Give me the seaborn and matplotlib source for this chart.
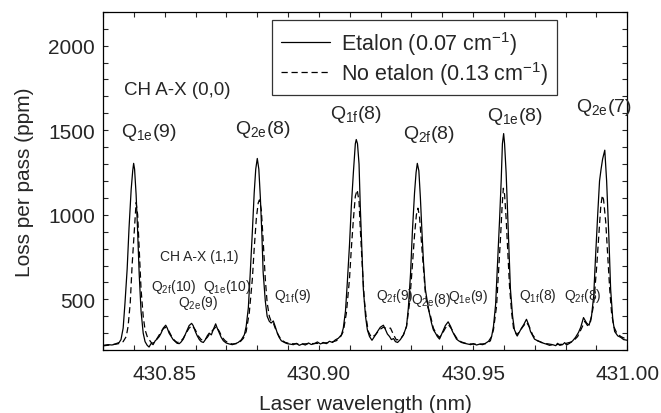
import matplotlib
matplotlib.use("Agg")
import matplotlib.pyplot as plt
from matplotlib.ticker import MultipleLocator
import seaborn as sns
import pandas as pd

# Etalon (solid) trace
etalon_nm = [
    430.8300, 430.8316, 430.8329, 430.8342, 430.8352, 430.8358, 430.8365, 430.8371,
    430.8378, 430.8384, 430.8391, 430.8396, 430.8399, 430.8402, 430.8407, 430.8412,
    430.8417, 430.8423, 430.8430, 430.8436, 430.8443, 430.8449, 430.8456, 430.8462,
    430.8469, 430.8475, 430.8482, 430.8488, 430.8495, 430.8503, 430.8508, 430.8514,
    430.8521, 430.8527, 430.8534, 430.8540, 430.8547, 430.8553, 430.8560, 430.8566,
    430.8573, 430.8579, 430.8587, 430.8592, 430.8599, 430.8605, 430.8612, 430.8618,
    430.8625, 430.8631, 430.8638, 430.8644, 430.8651, 430.8657, 430.8665, 430.8670,
    430.8677, 430.8683, 430.8690, 430.8699, 430.8709, 430.8719, 430.8729, 430.8738,
    430.8748, 430.8758, 430.8764, 430.8771, 430.8777, 430.8784, 430.8790, 430.8795,
    430.8800, 430.8805, 430.8810, 430.8815, 430.8819, 430.8826, 430.8832, 430.8839,
    430.8845, 430.8852, 430.8858, 430.8865, 430.8871, 430.8878, 430.8888, 430.8897,
    430.8907, 430.8917, 430.8927, 430.8936, 430.8946, 430.8956, 430.8966, 430.8975,
    430.8985, 430.8995, 430.9005, 430.9014, 430.9024, 430.9034, 430.9044, 430.9053,
    430.9063, 430.9073, 430.9079, 430.9086, 430.9092, 430.9099, 430.9105, 430.9112,
    430.9118, 430.9121, 430.9125, 430.9130, 430.9134, 430.9139, 430.9144, 430.9151,
    430.9157, 430.9164, 430.9172, 430.9180, 430.9190, 430.9199, 430.9209, 430.9216,
    430.9222, 430.9229, 430.9235, 430.9242, 430.9248, 430.9255, 430.9264, 430.9274,
    430.9284, 430.9290, 430.9297, 430.9303, 430.9310, 430.9315, 430.9319, 430.9324,
    430.9329, 430.9334, 430.9339, 430.9345, 430.9352, 430.9358, 430.9365, 430.9371,
    430.9378, 430.9384, 430.9391, 430.9397, 430.9404, 430.9410, 430.9419, 430.9427,
    430.9433, 430.9440, 430.9446, 430.9453, 430.9462, 430.9472, 430.9482, 430.9492,
    430.9501, 430.9511, 430.9521, 430.9531, 430.9540, 430.9550, 430.9560, 430.9566,
    430.9573, 430.9579, 430.9586, 430.9591, 430.9595, 430.9599, 430.9602, 430.9607,
    430.9612, 430.9617, 430.9621, 430.9628, 430.9634, 430.9643, 430.9651, 430.9657,
    430.9664, 430.9673, 430.9680, 430.9686, 430.9693, 430.9699, 430.9709, 430.9719,
    430.9729, 430.9738, 430.9748, 430.9758, 430.9768, 430.9774, 430.9781, 430.9790,
    430.9797, 430.9803, 430.9813, 430.9823, 430.9832, 430.9842, 430.9849, 430.9858,
    430.9868, 430.9876, 430.9884, 430.9891, 430.9897, 430.9904, 430.9910, 430.9915,
    430.9920, 430.9927, 430.9933, 430.9940, 430.9946, 430.9953, 430.9959, 430.9969,
    430.9979, 430.9988, 431.0000,
]
etalon_ppm = [
    228, 232, 230, 238, 245, 262, 330, 480,
    680, 920, 1150, 1260, 1304, 1270, 1120, 900,
    650, 430, 300, 250, 228, 218, 240, 232,
    255, 265, 280, 300, 330, 347, 330, 300,
    280, 262, 250, 240, 238, 248, 265, 290,
    320, 345, 358, 345, 310, 285, 262, 250,
    245, 260, 285, 300, 290, 320, 355, 330,
    300, 275, 255, 242, 236, 232, 238, 245,
    260, 290, 340, 450, 650, 900, 1130, 1270,
    1333, 1270, 1100, 880, 660, 490, 400, 370,
    360, 372, 340, 300, 275, 255, 245, 238,
    235, 232, 240, 228, 236, 230, 242, 233,
    238, 248, 236, 245, 238, 252, 245, 260,
    270, 290, 330, 430, 600, 820, 1050, 1260,
    1420, 1445, 1420, 1300, 1050, 800, 560, 400,
    320, 280, 258, 280, 310, 335, 347, 320,
    295, 280, 262, 268, 250, 245, 262, 290,
    340, 450, 650, 900, 1130, 1250, 1304, 1260,
    1100, 900, 720, 560, 480, 420, 360, 320,
    300, 280, 265, 290, 320, 345, 367, 340,
    310, 285, 265, 255, 245, 240, 236, 232,
    238, 230, 235, 232, 240, 252, 280, 340,
    470, 700, 980, 1200, 1420, 1480, 1420, 1250,
    1000, 760, 560, 400, 320, 283, 310, 330,
    350, 382, 350, 310, 285, 265, 255, 248,
    240, 235, 228, 232, 226, 240, 228, 232,
    244, 230, 240, 255, 275, 305, 335, 392,
    360, 347, 400, 520, 750, 1000, 1200, 1270,
    1330, 1382, 1200, 880, 560, 380, 310, 284,
    275, 262, 258,
]

# No-etalon (dashed) trace
noetalon_nm = [
    430.8300, 430.8323, 430.8342, 430.8355, 430.8365, 430.8375, 430.8381, 430.8388,
    430.8394, 430.8401, 430.8407, 430.8412, 430.8417, 430.8423, 430.8430, 430.8436,
    430.8443, 430.8449, 430.8456, 430.8462, 430.8472, 430.8482, 430.8492, 430.8501,
    430.8511, 430.8521, 430.8531, 430.8540, 430.8550, 430.8560, 430.8569, 430.8579,
    430.8589, 430.8599, 430.8608, 430.8618, 430.8628, 430.8638, 430.8647, 430.8657,
    430.8667, 430.8677, 430.8686, 430.8696, 430.8706, 430.8719, 430.8732, 430.8745,
    430.8755, 430.8764, 430.8774, 430.8784, 430.8790, 430.8797, 430.8803, 430.8807,
    430.8813, 430.8819, 430.8826, 430.8832, 430.8839, 430.8845, 430.8852, 430.8858,
    430.8868, 430.8878, 430.8891, 430.8907, 430.8940, 430.8972, 430.9005, 430.9037,
    430.9056, 430.9069, 430.9079, 430.9089, 430.9099, 430.9105, 430.9112, 430.9118,
    430.9124, 430.9130, 430.9134, 430.9141, 430.9147, 430.9154, 430.9160, 430.9170,
    430.9183, 430.9196, 430.9209, 430.9222, 430.9232, 430.9242, 430.9251, 430.9264,
    430.9274, 430.9284, 430.9294, 430.9303, 430.9310, 430.9316, 430.9321, 430.9326,
    430.9332, 430.9339, 430.9345, 430.9352, 430.9362, 430.9371, 430.9381, 430.9391,
    430.9401, 430.9410, 430.9420, 430.9430, 430.9440, 430.9449, 430.9462, 430.9479,
    430.9511, 430.9544, 430.9556, 430.9566, 430.9576, 430.9582, 430.9589, 430.9594,
    430.9598, 430.9602, 430.9607, 430.9612, 430.9618, 430.9625, 430.9631, 430.9641,
    430.9651, 430.9660, 430.9673, 430.9683, 430.9693, 430.9706, 430.9725, 430.9758,
    430.9790, 430.9823, 430.9839, 430.9852, 430.9862, 430.9871, 430.9881, 430.9891,
    430.9901, 430.9909, 430.9914, 430.9919, 430.9923, 430.9930, 430.9936, 430.9943,
    430.9949, 430.9956, 430.9966, 430.9979, 431.0000,
]
noetalon_ppm = [
    225, 230, 235, 240, 250, 280, 340, 480,
    700, 900, 1072, 1000, 800, 560, 400, 320,
    280, 262, 245, 240, 260, 290, 320, 335,
    320, 285, 258, 245, 248, 270, 300, 330,
    345, 320, 285, 262, 258, 275, 300, 320,
    340, 310, 275, 255, 242, 236, 238, 250,
    270, 310, 420, 620, 800, 980, 1070, 1088,
    1030, 850, 620, 480, 400, 370, 360, 330,
    290, 260, 245, 238, 236, 238, 240, 245,
    255, 275, 310, 420, 620, 800, 980, 1110,
    1147, 1080, 920, 680, 500, 380, 310, 275,
    290, 320, 335, 325, 330, 290, 260, 265,
    290, 340, 480, 700, 880, 1000, 1039, 990,
    850, 680, 540, 460, 400, 330, 295, 275,
    300, 330, 350, 325, 290, 265, 248, 238,
    234, 238, 255, 320, 460, 650, 870, 1050,
    1157, 1120, 980, 800, 580, 420, 330, 290,
    310, 335, 365, 335, 290, 258, 242, 232,
    234, 250, 280, 330, 370, 345, 370, 470,
    700, 920, 1050, 1115, 1090, 960, 780, 560,
    420, 340, 300, 280, 262,
]

sns.set_style("ticks")
plt.rcParams["font.family"] = ["Liberation Sans", "DejaVu Sans"]
plt.rcParams["mathtext.fontset"] = "custom"
plt.rcParams["mathtext.rm"] = "Liberation Sans"
plt.rcParams["mathtext.it"] = "Liberation Sans:italic"

fig = plt.figure(figsize=(6.61, 4.14), dpi=100)
ax = fig.add_axes([0.156, 0.152, 0.793, 0.817])

df_et = pd.DataFrame({"nm": etalon_nm, "ppm": etalon_ppm})
df_no = pd.DataFrame({"nm": noetalon_nm, "ppm": noetalon_ppm})
sns.lineplot(data=df_et, x="nm", y="ppm", ax=ax, color="black", lw=0.9,
             estimator=None, label=r"Etalon (0.07 cm$^{-1}$)")
sns.lineplot(data=df_no, x="nm", y="ppm", ax=ax, color="black", lw=0.9,
             estimator=None, linestyle=(0, (5, 3)), label=r"No etalon (0.13 cm$^{-1}$)")

ax.set_xlim(430.83, 431.00)
ax.set_ylim(200, 2200)
ax.xaxis.set_major_locator(MultipleLocator(0.05))
ax.xaxis.set_minor_locator(MultipleLocator(0.01))
ax.yaxis.set_major_locator(MultipleLocator(500))
ax.yaxis.set_minor_locator(MultipleLocator(100))
ax.set_yticks([500, 1000, 1500, 2000])
ax.set_xticks([430.85, 430.90, 430.95, 431.00])
ax.set_xticklabels(["430.85", "430.90", "430.95", "431.00"])
ax.tick_params(which="both", direction="in", top=True, right=True,
               length=3.5, width=0.8, labelsize=15)
ax.tick_params(axis="x", pad=10)
ax.tick_params(axis="y", pad=6)
for s in ax.spines.values():
    s.set_linewidth(0.9)
    s.set_color("black")

ax.set_xlabel("Laser wavelength (nm)", fontsize=15, labelpad=8)
ax.set_ylabel("Loss per pass (ppm)", fontsize=15, labelpad=10)

leg = ax.legend(loc="upper left", bbox_to_anchor=(0.3225, 0.975), borderaxespad=0,
                fontsize=15.5, frameon=True, fancybox=False, edgecolor="black",
                handlelength=2.3, borderpad=0.4, labelspacing=0.1, handletextpad=0.5)
leg.get_frame().set_linewidth(0.9)

big = 14
ax.text(430.8368, 1741, "CH A-X (0,0)", fontsize=13.5, va="center")
ax.text(430.8357, 1494, r"Q$_{\rm 1e}$(9)", fontsize=big, va="center")
ax.text(430.8727, 1512, r"Q$_{\rm 2e}$(8)", fontsize=big, va="center")
ax.text(430.9035, 1600, r"Q$_{\rm 1f}$(8)", fontsize=big, va="center")
ax.text(430.9273, 1482, r"Q$_{\rm 2f}$(8)", fontsize=big, va="center")
ax.text(430.9545, 1588, r"Q$_{\rm 1e}$(8)", fontsize=big, va="center")
ax.text(430.9835, 1641, r"Q$_{\rm 2e}$(7)", fontsize=big, va="center")

small = 10
ax.text(430.8486, 759, "CH A-X (1,1)", fontsize=small, va="center")
ax.text(430.8456, 576, r"Q$_{\rm 2f}$(10)", fontsize=small, va="center")
ax.text(430.8543, 482, r"Q$_{\rm 2e}$(9)", fontsize=small, va="center")
ax.text(430.8625, 576, r"Q$_{\rm 1e}$(10)", fontsize=small, va="center")
ax.text(430.8855, 523, r"Q$_{\rm 1f}$(9)", fontsize=small, va="center")
ax.text(430.9186, 523, r"Q$_{\rm 2f}$(9)", fontsize=small, va="center")
ax.text(430.9300, 500, r"Q$_{\rm 2e}$(8)", fontsize=small, va="center")
ax.text(430.9417, 517, r"Q$_{\rm 1e}$(9)", fontsize=small, va="center")
ax.text(430.9649, 523, r"Q$_{\rm 1f}$(8)", fontsize=small, va="center")
ax.text(430.9795, 523, r"Q$_{\rm 2f}$(8)", fontsize=small, va="center")

fig.savefig("out.png", dpi=100)
